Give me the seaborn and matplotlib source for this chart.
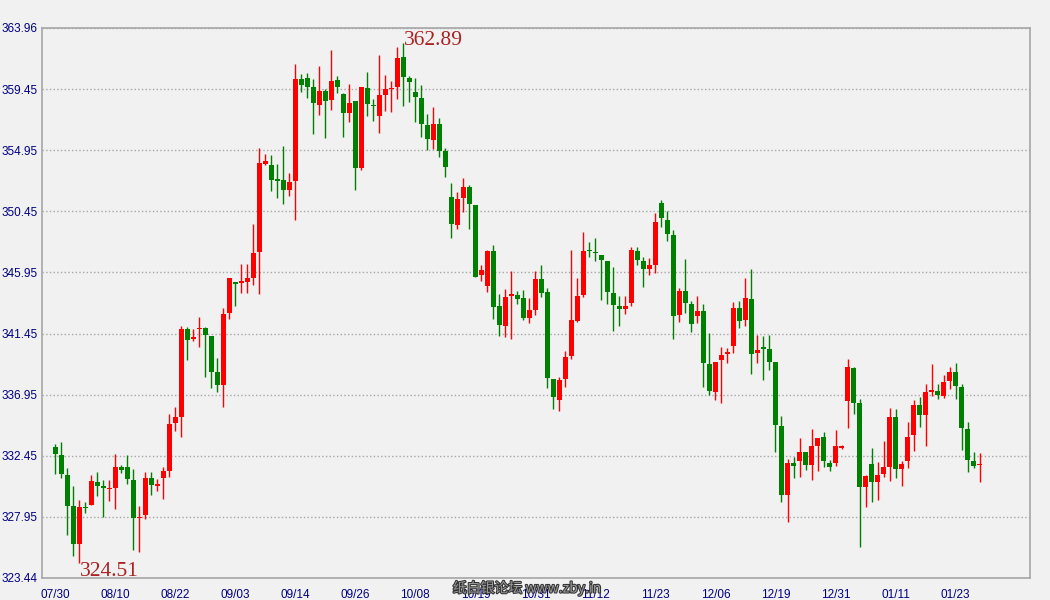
import matplotlib
matplotlib.use("Agg")
import matplotlib.pyplot as plt
import matplotlib.patheffects as pe
import seaborn as sns
import numpy as np

# K线数据 (开, 高, 低, 收)
opens = [333.06, 332.47, 331.00, 328.71, 325.93, 328.64, 328.79, 330.48, 330.19, 329.98,
         330.07, 331.59, 331.59, 330.63, 327.85, 328.07, 330.83, 330.25, 330.80, 331.32,
         334.83, 335.28, 341.77, 341.03, 341.77, 341.84, 341.25, 338.60, 337.64, 342.98,
         345.24, 345.20, 345.24, 345.56, 347.45, 353.94, 353.87, 352.74, 352.76, 352.02,
         352.71, 360.21, 360.29, 359.62, 358.29, 359.33, 358.66, 360.14, 359.11, 357.70,
         358.59, 353.65, 359.55, 358.25, 357.48, 359.03, 359.47, 359.62, 361.83, 360.29,
         359.25, 358.81, 356.82, 355.71, 356.89, 354.90, 351.51, 349.45, 351.44, 352.25,
         350.93, 345.76, 344.95, 347.53, 343.48, 342.00, 344.24, 344.27, 344.07, 342.60,
         343.19, 345.47, 344.50, 338.09, 336.54, 338.09, 339.78, 342.36, 344.28, 347.52,
         347.38, 347.23, 346.79, 344.43, 343.47, 343.25, 343.69, 347.52, 346.79, 346.20,
         346.49, 351.04, 349.79, 348.68, 342.83, 344.57, 343.62, 342.76, 343.10, 339.19,
         337.15, 339.51, 339.93, 340.52, 343.32, 342.44, 343.98, 340.00, 340.37, 340.30,
         339.34, 334.62, 329.54, 331.90, 332.03, 332.70, 331.74, 333.14, 333.80, 331.88,
         331.88, 333.04, 336.45, 338.89, 336.31, 330.12, 331.81, 330.48, 331.07, 331.59,
         335.28, 331.44, 332.03, 333.95, 336.16, 335.42, 337.12, 337.20, 336.82, 337.93,
         338.59, 337.49, 334.39, 332.03, 331.76]
highs = [333.29, 333.43, 331.52, 330.19, 329.16, 329.06, 331.00, 331.22, 330.63, 330.63,
         332.55, 331.76, 332.47, 331.44, 328.74, 331.25, 331.22, 330.70, 331.61, 335.50,
         336.01, 342.04, 341.92, 341.82, 342.66, 341.92, 341.30, 339.63, 343.32, 345.55,
         345.26, 346.57, 346.57, 349.52, 355.12, 354.68, 354.61, 353.94, 355.27, 353.28,
         361.32, 360.58, 360.65, 360.21, 361.17, 359.47, 362.35, 360.43, 359.18, 359.84,
         358.59, 359.62, 360.73, 358.74, 361.98, 360.51, 360.06, 362.57, 362.89, 360.43,
         360.29, 359.77, 357.63, 358.15, 357.34, 355.12, 352.54, 351.88, 352.91, 352.40,
         350.93, 346.50, 347.61, 347.98, 344.37, 344.73, 346.06, 344.58, 344.66, 344.07,
         346.06, 346.50, 344.80, 338.09, 338.24, 340.15, 347.60, 345.53, 348.92, 348.19,
         348.48, 347.23, 346.79, 346.34, 344.21, 344.21, 347.82, 347.82, 347.08, 347.01,
         350.32, 351.26, 350.45, 349.05, 344.80, 346.93, 343.84, 344.21, 343.62, 341.48,
         339.34, 340.45, 340.37, 343.76, 343.84, 345.53, 346.20, 341.33, 341.26, 341.33,
         339.34, 335.36, 332.19, 332.34, 333.73, 332.70, 334.39, 333.73, 334.17, 332.11,
         334.32, 333.24, 339.55, 338.96, 336.60, 331.00, 332.99, 331.96, 333.51, 335.94,
         335.87, 332.03, 334.91, 336.53, 336.75, 337.71, 339.18, 337.71, 338.37, 338.96,
         339.26, 337.71, 334.91, 332.70, 332.62]
lows = [331.10, 330.80, 326.60, 325.05, 324.51, 328.20, 328.79, 329.45, 327.93, 329.11,
        328.52, 331.17, 330.36, 325.47, 325.34, 327.78, 329.55, 329.84, 329.28, 330.88,
        334.24, 333.80, 339.48, 340.88, 340.47, 338.26, 337.42, 337.12, 336.04, 342.53,
        343.49, 344.45, 344.45, 345.02, 344.38, 353.87, 351.95, 351.43, 350.99, 351.58,
        349.81, 359.28, 358.81, 356.16, 357.56, 355.86, 357.93, 359.18, 355.93, 357.04,
        352.02, 353.50, 357.48, 357.11, 356.23, 357.85, 357.78, 358.74, 358.22, 358.52,
        357.04, 355.93, 354.98, 355.05, 354.46, 352.98, 348.49, 349.15, 350.41, 349.15,
        345.62, 345.32, 344.51, 342.52, 341.27, 341.19, 341.05, 343.63, 342.45, 342.23,
        342.82, 344.14, 337.42, 335.88, 335.73, 337.50, 339.56, 342.29, 344.13, 347.08,
        346.79, 343.91, 343.62, 341.63, 341.99, 342.88, 343.47, 346.49, 344.87, 345.75,
        345.90, 349.27, 348.24, 341.04, 342.31, 342.98, 341.58, 342.24, 337.52, 336.93,
        336.57, 336.34, 339.27, 340.00, 341.85, 341.99, 338.46, 339.27, 338.02, 338.75,
        332.71, 329.03, 327.55, 330.79, 330.85, 331.37, 330.63, 331.30, 331.59, 331.30,
        331.66, 332.94, 334.46, 335.50, 325.69, 328.64, 329.01, 329.16, 330.85, 330.56,
        330.78, 330.19, 331.52, 332.77, 334.54, 333.14, 336.82, 336.60, 336.68, 337.34,
        336.60, 332.84, 331.22, 331.52, 330.48]
closes = [332.57, 331.10, 328.74, 325.93, 328.64, 328.60, 330.56, 330.19, 330.07, 330.02,
          331.59, 331.39, 330.73, 327.85, 327.95, 330.78, 330.29, 330.31, 331.29, 334.76,
          335.28, 341.77, 340.96, 341.18, 341.84, 341.33, 338.62, 337.64, 342.88, 345.53,
          345.09, 345.24, 345.53, 347.38, 354.02, 354.16, 352.76, 352.72, 352.02, 352.61,
          360.21, 359.77, 359.62, 358.44, 359.33, 358.59, 360.06, 359.62, 357.70, 358.44,
          353.65, 359.62, 358.37, 358.20, 359.03, 359.47, 359.55, 361.76, 360.36, 359.99,
          358.88, 356.92, 355.79, 356.89, 354.93, 353.72, 349.52, 351.37, 352.25, 351.00,
          345.62, 346.13, 347.53, 343.41, 342.08, 344.14, 344.30, 343.98, 342.60, 343.19,
          345.47, 344.44, 338.16, 336.76, 338.01, 339.71, 342.44, 344.21, 347.52, 347.50,
          347.35, 346.86, 344.50, 343.54, 343.25, 343.47, 347.60, 346.86, 346.20, 346.49,
          349.66, 349.93, 348.75, 342.76, 344.57, 343.71, 342.17, 343.10, 339.29, 337.23,
          339.34, 339.86, 340.08, 343.32, 342.36, 344.06, 339.93, 340.23, 340.34, 339.37,
          334.70, 329.54, 331.90, 331.68, 332.70, 331.74, 333.14, 333.73, 332.03, 331.59,
          333.14, 333.10, 338.96, 336.31, 330.12, 330.93, 330.48, 331.00, 331.59, 335.28,
          331.44, 331.81, 333.80, 336.16, 335.42, 337.12, 337.27, 336.90, 337.86, 338.59,
          337.56, 334.46, 332.11, 331.66, 331.81]

date_labels = ["07/30", "08/10", "08/22", "09/03", "09/14", "09/26", "10/08", "10/19",
               "10/31", "11/12", "11/23", "12/06", "12/19", "12/31", "01/11", "01/23"]
y_ticks = [323.44, 327.95, 332.45, 336.95, 341.45, 345.95, 350.45, 354.95, 359.45, 363.96]

bg = "#f1f1f1"
sns.set_style("whitegrid", {"axes.facecolor": bg, "figure.facecolor": bg,
                            "axes.edgecolor": "#a6a6a6", "grid.color": "#a6a6a6",
                            "grid.linestyle": ":"})
plt.rcParams["font.family"] = ["Liberation Sans", "DejaVu Sans", "Noto Sans CJK SC"]

o = np.array(opens)
h = np.array(highs)
l = np.array(lows)
c = np.array(closes)
x = np.arange(len(o))
up = c >= o
colors = np.where(up, "#ff0000", "#008000")

fig = plt.figure(figsize=(10.5, 6), dpi=100)
ax = fig.add_axes([42 / 1050, 22 / 600, 988 / 1050, 550 / 600])

# 影线
ax.vlines(x, l, h, colors=colors, linewidth=1.0, zorder=2)
# 实体
body_bottom = np.minimum(o, c)
body_h = np.maximum(np.abs(c - o), 0.09)
ax.bar(x, body_h, bottom=body_bottom, width=0.8, color=colors, linewidth=0, zorder=3)

ax.set_xlim(-2.2, 162.4)
ax.set_ylim(323.44, 363.96)
ax.set_yticks(y_ticks)
ax.set_yticklabels([f"{v:.2f}" for v in y_ticks], color="#000080", fontsize=8.5)
ax.set_xticks(np.arange(0, 10 * len(date_labels), 10))
ax.set_xticklabels(date_labels, color="#000080", fontsize=8.5)
ax.tick_params(axis="both", length=0)
ax.tick_params(axis="x", pad=8)
ax.tick_params(axis="y", pad=3)
ax.grid(axis="x", visible=False)
ax.grid(axis="y", linewidth=1.0)
for s in ax.spines.values():
    s.set_visible(True)
    s.set_color("#a6a6a6")
    s.set_linewidth(1.2)

# 最高价/最低价标注
imax = int(np.argmax(h))
imin = int(np.argmin(l))
ax.text(imax + 0.1, h[imax] - 0.2, f"{h[imax]:.2f}", color="#aa2222", fontsize=15.5,
        family="Liberation Serif", ha="left", va="baseline", zorder=5)
ax.text(imin + 0.1, 323.6, f"{l[imin]:.2f}", color="#aa2222", fontsize=15.5,
        family="Liberation Serif", ha="left", va="baseline", zorder=5)

# 水印
fig.text(527 / 1050, 12 / 600, "纸白银论坛 www.zby.in", color="#9a9a9a", fontsize=10,
         family=["Noto Sans CJK SC", "DejaVu Sans"], ha="center", va="center",
         path_effects=[pe.withStroke(linewidth=1.5, foreground="#333333")])

fig.savefig("out.png", dpi=100, facecolor=bg)
